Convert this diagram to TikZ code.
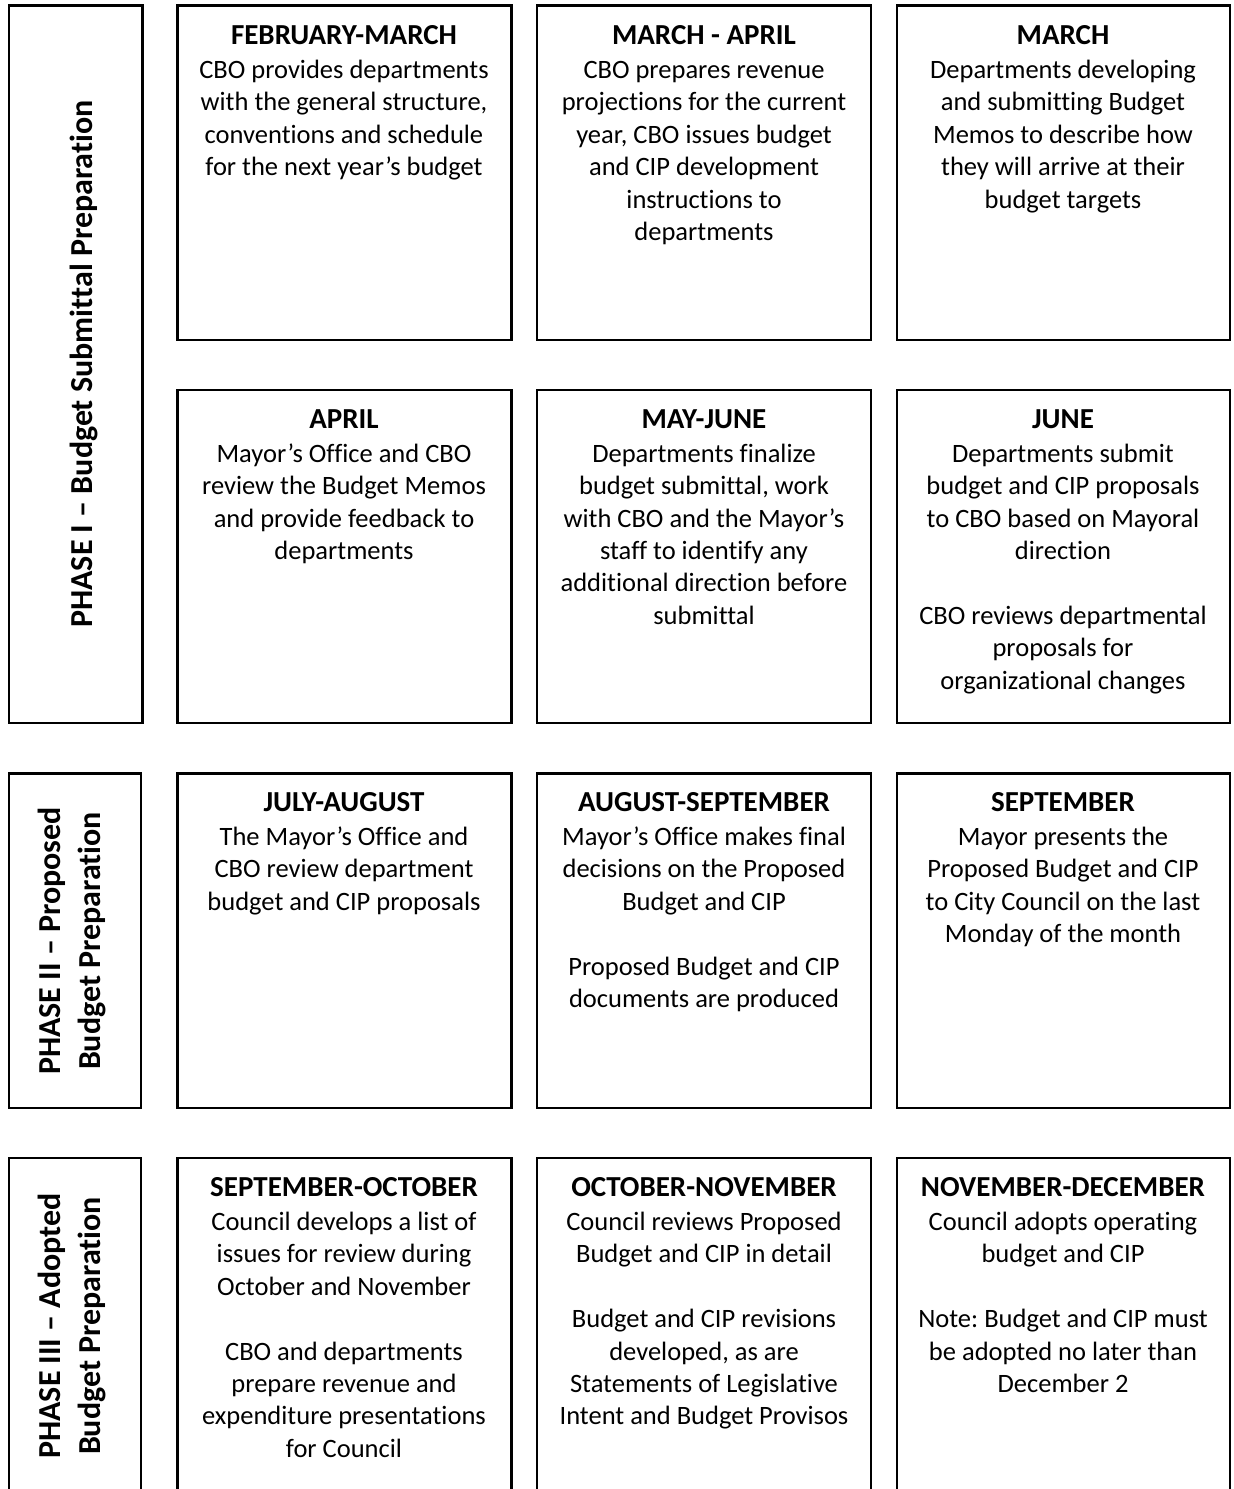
\documentclass[tikz,border=0pt]{standalone}
\usepackage{fontspec}
\setmainfont{Carlito}[Ligatures={NoCommon}]
\frenchspacing
\tikzset{
  boxline/.style={draw=black, line width=1.25pt},
  boxtext/.style={anchor=north, inner sep=0pt, align=center,
    font=\fontsize{13.25pt}{16.2pt}\selectfont},
  phasetext/.style={rotate=90, inner sep=0pt, align=center,
    font=\fontsize{16pt}{19.8pt}\selectfont\bfseries},
}
\newcommand{\hd}[1]{{\fontsize{14.5pt}{16.2pt}\selectfont\bfseries #1}\\[0.8pt]}
\newcommand{\gap}{\\[16.2pt]}
\begin{document}
\begin{tikzpicture}[x=0.5pt,y=-0.5pt]
\useasboundingbox (0,0) rectangle (1233,1489);
\clip (0,0) rectangle (1233,1489);
\fill[white] (0,0) rectangle (1233,1489);
% phase boxes
\draw[boxline] (9,5.5) rectangle (142.5,723);
\draw[boxline] (9,773.5) rectangle (141,1108);
\draw[boxline] (9,1158) rectangle (141,1530);
% row boxes
\foreach \xa/\xb in {177.5/511.5, 537/871, 897/1230}{
  \draw[boxline] (\xa,5.5) rectangle (\xb,340);
  \draw[boxline] (\xa,390) rectangle (\xb,723);
  \draw[boxline] (\xa,773.5) rectangle (\xb,1108);
  \draw[boxline] (\xa,1158) rectangle (\xb,1530);
}
% phase labels
\node[phasetext] (p1) at (84,364) {PHASE I -- Budget Submittal Preparation};
\node[phasetext] (p2) at (72,941) {PHASE II -- Proposed\\Budget Preparation};
\node[phasetext] (p3) at (72,1326) {PHASE III -- Adopted\\Budget Preparation};
% row 1
\node[boxtext] (b1) at (344,25) {\hd{FEBRUARY-MARCH}CBO provides departments\\with the general structure,\\conventions and schedule\\for the next year’s budget};
\node[boxtext] (b2) at (704,25) {\hd{MARCH - APRIL}CBO prepares revenue\\projections for the current\\year, CBO issues budget\\and CIP development\\instructions to\\departments};
\node[boxtext] (b3) at (1063,25) {\hd{MARCH}Departments developing\\and submitting Budget\\Memos to describe how\\they will arrive at their\\budget targets};
% row 2
\node[boxtext] (b4) at (344,409) {\hd{APRIL}Mayor’s Office and CBO\\review the Budget Memos\\and provide feedback to\\departments};
\node[boxtext] (b5) at (704,409) {\hd{MAY-JUNE}Departments finalize\\budget submittal, work\\with CBO and the Mayor’s\\staff to identify any\\additional direction before\\submittal};
\node[boxtext] (b6) at (1063,409) {\hd{JUNE}Departments submit\\budget and CIP proposals\\to CBO based on Mayoral\\direction\gap CBO reviews departmental\\proposals for\\organizational changes};
% row 3
\node[boxtext] (b7) at (344,792) {\hd{JULY-AUGUST}The Mayor’s Office and\\CBO review department\\budget and CIP proposals};
\node[boxtext] (b8) at (704,792) {\hd{AUGUST-SEPTEMBER}Mayor’s Office makes final\\decisions on the Proposed\\Budget and CIP\gap Proposed Budget and CIP\\documents are produced};
\node[boxtext] (b9) at (1063,792) {\hd{SEPTEMBER}Mayor presents the\\Proposed Budget and CIP\\to City Council on the last\\Monday of the month};
% row 4
\node[boxtext] (b10) at (344,1177) {\hd{SEPTEMBER-OCTOBER}Council develops a list of\\issues for review during\\October and November\gap CBO and departments\\prepare revenue and\\expenditure presentations\\for Council};
\node[boxtext] (b11) at (704,1177) {\hd{OCTOBER-NOVEMBER}Council reviews Proposed\\Budget and CIP in detail\gap Budget and CIP revisions\\developed, as are\\Statements of Legislative\\Intent and Budget Provisos};
\node[boxtext] (b12) at (1063,1177) {\hd{NOVEMBER-DECEMBER}Council adopts operating\\budget and CIP\gap Note: Budget and CIP must\\be adopted no later than\\December 2};
\end{tikzpicture}
\end{document}
